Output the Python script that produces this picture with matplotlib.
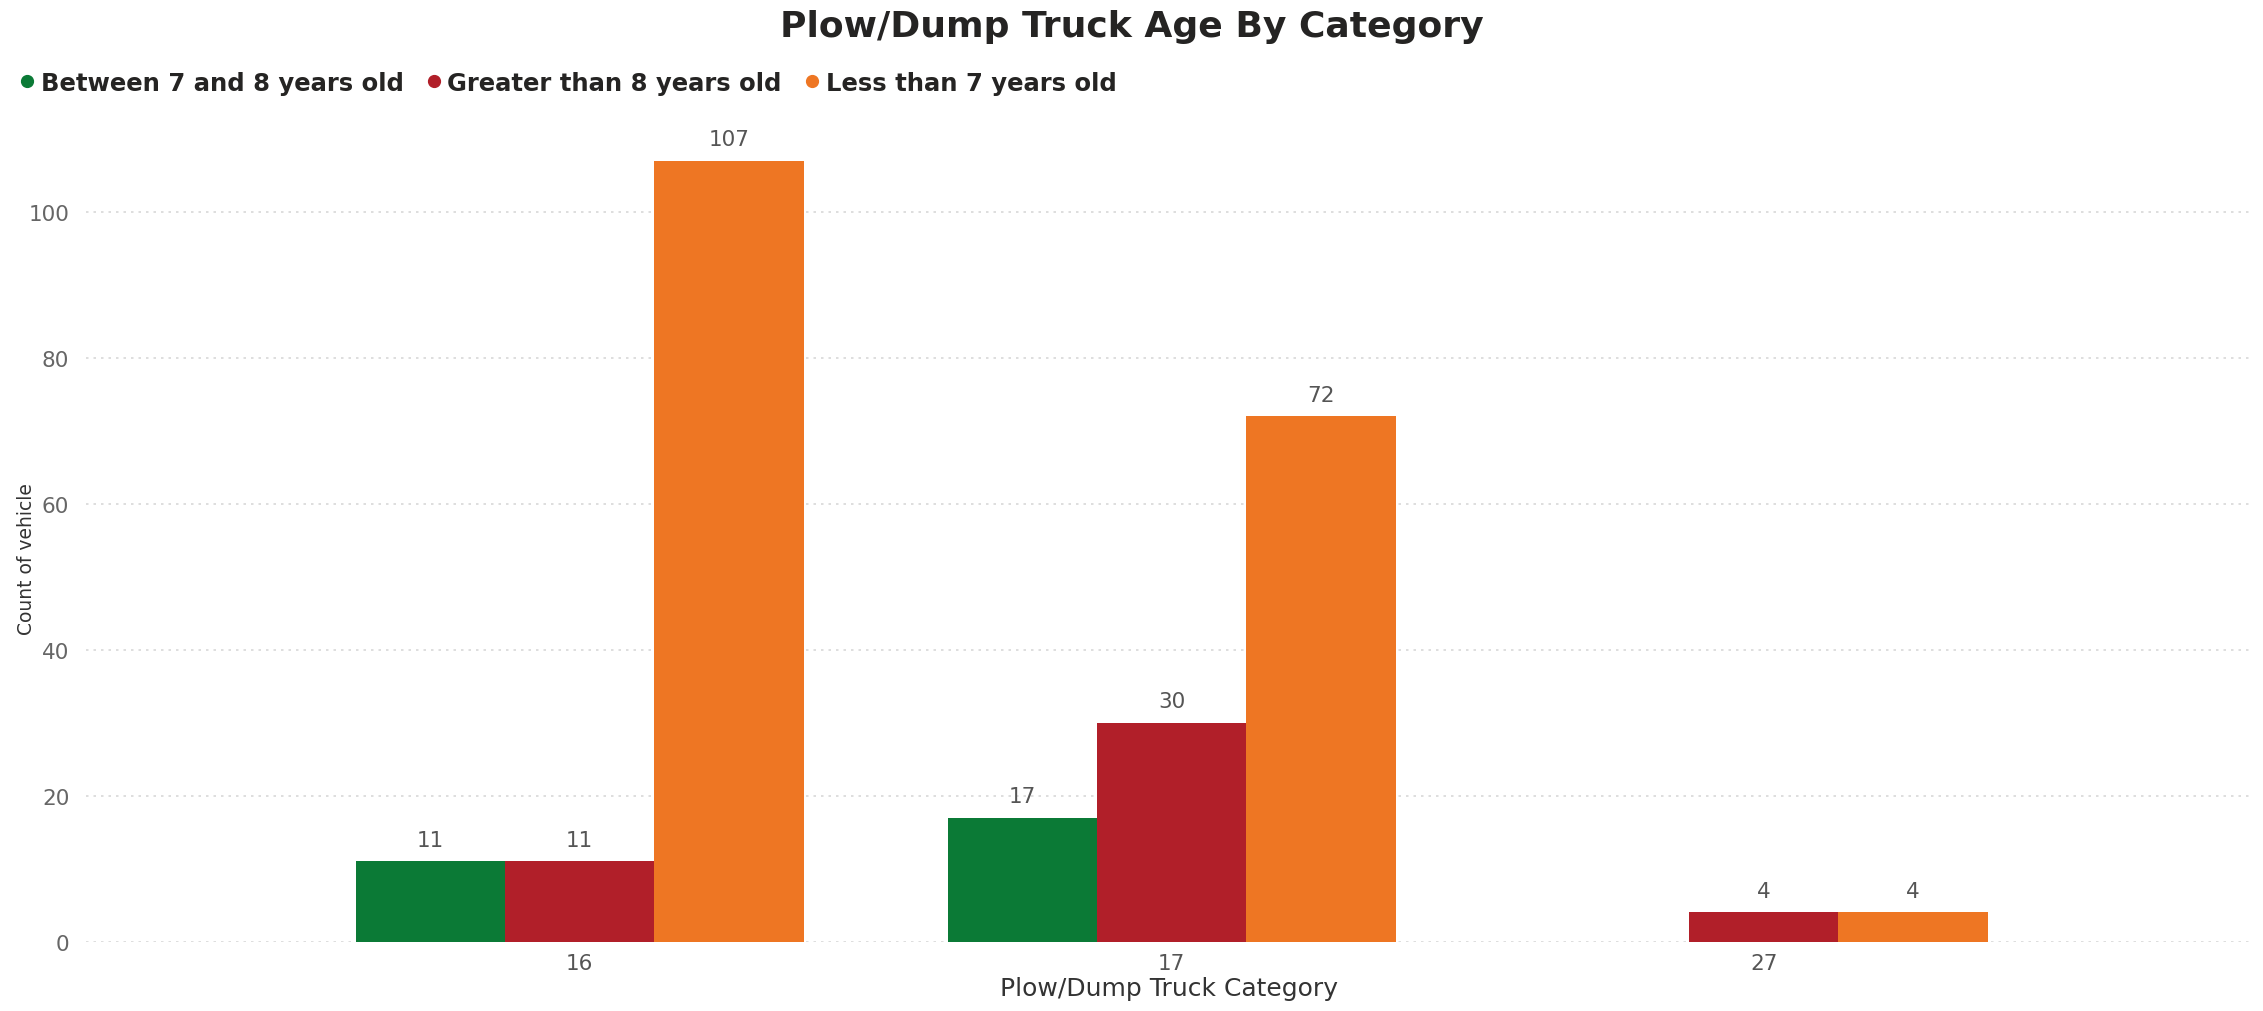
import matplotlib
matplotlib.use("Agg")
import matplotlib.pyplot as plt
from matplotlib.lines import Line2D
import numpy as np

# chart data
categories = ["16", "17", "27"]
series_names = ["Between 7 and 8 years old", "Greater than 8 years old", "Less than 7 years old"]
between_7_8 = [11, 17, None]
greater_8 = [11, 30, 4]
less_7 = [107, 72, 4]
series_values = [between_7_8, greater_8, less_7]
series_colors = ["#0B7A36", "#B11F29", "#EE7623"]

y_ticks = [0, 20, 40, 60, 80, 100]

plt.rcParams['font.family'] = ['DejaVu Sans']

fig = plt.figure(figsize=(22.63, 10.12), dpi=100)
ax = fig.add_axes([0.038, 0.0685, 0.957, 0.8075])

x = np.arange(len(categories))
bar_w = 0.252
for i, (vals, color) in enumerate(zip(series_values, series_colors)):
    offset = (i - 1) * bar_w
    for xi, v in zip(x, vals):
        if v is None:
            continue
        ax.bar(xi + offset, v, width=bar_w, color=color, linewidth=0)
        ax.text(xi + offset, v + 1.6, str(v), ha="center", va="bottom",
                fontsize=15.5, color="#555555")

ax.set_xlim(-0.834, 2.824)
ax.set_ylim(0, 112)
ax.set_xticks(x)
ax.set_xticklabels(categories, fontsize=15.5, color="#555555")
ax.set_yticks(y_ticks)
ax.set_yticklabels([str(t) for t in y_ticks], fontsize=15.5, color="#666666")
ax.tick_params(axis="both", length=0, pad=8)
ax.tick_params(axis="y", pad=12)

ax.grid(axis="y", linestyle=(0, (1.5, 3)), color="#D8D8D8", linewidth=1.2)
ax.set_axisbelow(True)
for s in ax.spines.values():
    s.set_visible(False)

ax.set_xlabel("Plow/Dump Truck Category", fontsize=18, color="#333333", labelpad=2)
ax.set_ylabel("Count of vehicle", fontsize=13.5, color="#333333")
ax.yaxis.set_label_coords(-0.023, 0.47)

fig.suptitle("Plow/Dump Truck Age By Category", x=0.5, y=0.99, va="top",
             fontsize=26, fontweight="bold", color="#252423")

handles = [Line2D([0], [0], marker="o", linestyle="", markersize=8.5,
                  markerfacecolor=c, markeredgecolor=c) for c in series_colors]
leg = fig.legend(handles, series_names, loc="center left", bbox_to_anchor=(0.003, 0.917),
                 ncol=3, frameon=False, handletextpad=0.1, columnspacing=0.8,
                 prop={"size": 17.5, "weight": "bold"}, borderaxespad=0, handlelength=0.9)
for t in leg.get_texts():
    t.set_color("#252423")

fig.savefig("out.png", dpi=100, facecolor="white")
